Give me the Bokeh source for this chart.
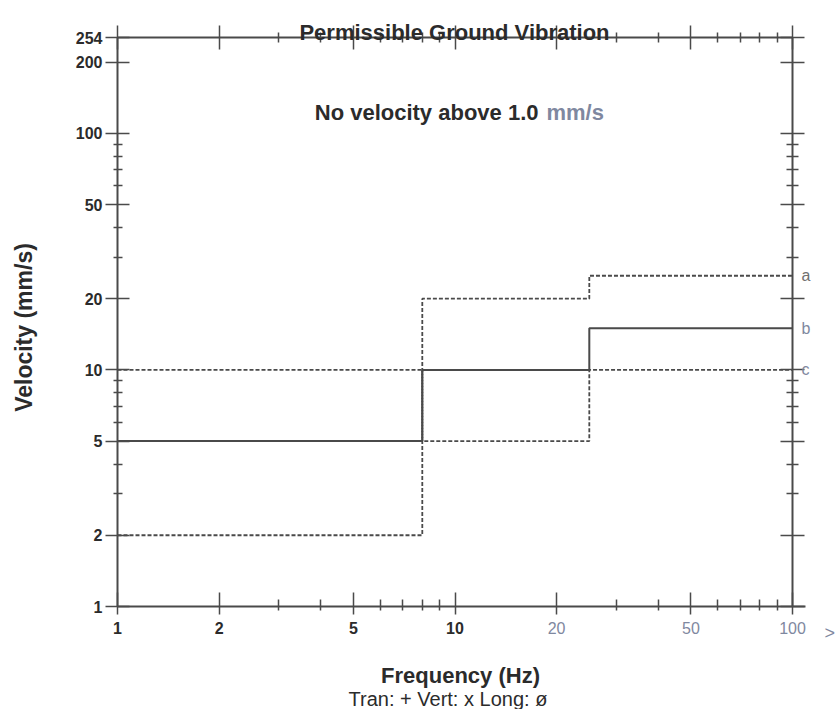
import math
from bokeh.plotting import figure
from bokeh.models import (LogAxis, FixedTicker, Label, CustomJSTickFormatter,
                          NumeralTickFormatter, Range1d)
from bokeh.embed import file_html
from bokeh.resources import INLINE

# ---------------- data ----------------
freq_breaks = [1, 8, 25, 100]          # Hz, step break points
vel_a = [2, 20, 25, 25]                # mm/s, curve a (dashed)
vel_b = [5, 10, 15, 15]                # mm/s, curve b (solid)
vel_c = [10, 5, 10, 10]                # mm/s, curve c (dashed)
curve_names = ["a", "b", "c"]
x_major_dark = [1, 2, 5, 10]
x_major_light = [20, 50, 100]
y_major = [1, 2, 5, 10, 20, 50, 100, 200, 254]
minor_vals = [3, 4, 6, 7, 8, 9, 30, 40, 60, 70, 80, 90]
X_MIN, X_MAX = 1, 100
Y_MIN, Y_MAX = 1, 254

# ---------------- layout (page pixels) ----------------
W, H = 837, 709
FL, FR, FT, FB = 117, 792, 37, 606     # where the data box sits
FONT = "Liberation Sans"
DARK = "#2b2b2b"
LINE = "#4a4a4a"
BLUE = "#7f88a0"

XDEC = (FR - FL) / math.log10(X_MAX / X_MIN)
YDEC = (FB - FT) / math.log10(Y_MAX / Y_MIN)


def dx(px):
    return X_MIN * 10 ** ((px - FL) / XDEC)


def dy(py):
    return Y_MIN * 10 ** ((FB - py) / YDEC)


p = figure(width=W, height=H, x_axis_type="log", y_axis_type="log",
           x_axis_location=None, y_axis_location=None,
           x_range=Range1d(dx(0), dx(W)), y_range=Range1d(dy(H), dy(0)),
           output_backend="svg", toolbar_location=None,
           min_border_left=0, min_border_right=0,
           min_border_top=0, min_border_bottom=0)
p.grid.visible = False
p.outline_line_color = None
p.background_fill_color = "white"
p.border_fill_color = "white"


def make_axis(major, minor, loc, bounds, tin, tout, min_in, min_out,
              labels=True, color=DARK, line=True):
    ax = LogAxis(ticker=FixedTicker(ticks=major, minor_ticks=minor),
                 fixed_location=loc, bounds=bounds)
    ax.axis_line_color = LINE if line else None
    ax.axis_line_width = 2
    ax.major_tick_line_color = LINE
    ax.major_tick_line_width = 1.5
    ax.minor_tick_line_color = LINE
    ax.minor_tick_line_width = 1.5
    ax.major_tick_in = tin
    ax.major_tick_out = tout
    ax.minor_tick_in = min_in
    ax.minor_tick_out = min_out
    ax.major_label_text_font = FONT
    ax.major_label_text_font_style = "bold"
    ax.major_label_text_font_size = "16px"
    ax.major_label_text_color = color
    if labels:
        ax.formatter = NumeralTickFormatter(format="0")
    else:
        ax.formatter = CustomJSTickFormatter(code="return ''")
        ax.major_label_text_font_size = "1px"
        ax.major_label_standoff = 0
    return ax


# bottom (two overlaid axes so that label colours can differ)
xb1 = make_axis(x_major_dark, minor_vals, Y_MIN, (X_MIN, dx(805)), 14, 8, 7, 4)
xb1.major_label_standoff = 7
xb2 = make_axis(x_major_light, [], Y_MIN, (X_MIN, X_MAX), 14, 8, 7, 4,
                color=BLUE, line=False)
xb2.major_label_standoff = 7
xb2.major_label_text_font_style = "normal"
p.add_layout(xb1, "below")
p.add_layout(xb2, "below")

# left
yl = make_axis(y_major, minor_vals, X_MIN, (Y_MIN, Y_MAX), 12, 12, 5, 4)
yl.major_label_standoff = 3
p.add_layout(yl, "left")

# top and right frame axes (ticks only)
xt = make_axis(x_major_dark + x_major_light, minor_vals, Y_MAX, (X_MIN, X_MAX),
               12, 12, 5, 5, labels=False)
p.add_layout(xt, "above")
yr = make_axis(y_major, minor_vals, X_MAX, (Y_MIN, Y_MAX), 12, 12, 6, 6, labels=False)
p.add_layout(yr, "right")

# ---------------- curves ----------------
p.step(freq_breaks, vel_a, mode="after", line_color=LINE, line_width=1.8, line_dash="4 2")
p.step(freq_breaks, vel_c, mode="after", line_color=LINE, line_width=1.8, line_dash="4 2")
p.step(freq_breaks, vel_b, mode="after", line_color=LINE, line_width=2)

end_vals = [vel_a[-1], vel_b[-1], vel_c[-1]]
end_cols = ["#707070", BLUE, BLUE]
for name, v, c in zip(curve_names, end_vals, end_cols):
    p.add_layout(Label(x=freq_breaks[-1], y=v, text=name, x_offset=9,
                       text_baseline="middle", text_align="left",
                       text_font=FONT, text_font_size="16px", text_color=c))


# ---------------- texts ----------------
def add_text(px, py, text, align="center", baseline="alphabetic", size="22px",
             style="bold", color=DARK, angle=0.0):
    p.add_layout(Label(x=dx(px), y=dy(py), text=text, angle=angle,
                       text_align=align, text_baseline=baseline,
                       text_font=FONT, text_font_style=style,
                       text_font_size=size, text_color=color))


add_text(454, 32, "Permissible Ground Vibration")
add_text(538, 112, "No velocity above 1.0", align="right")
add_text(546, 112, "mm/s", align="left", color=BLUE)
add_text(23, 327, "Velocity (mm/s)", baseline="middle", size="23px", angle=math.pi / 2)
add_text(460, 675, "Frequency (Hz)")
add_text(453, 698, "Tran: +  Vert: x  Long: ø", size="20px", style="normal")
add_text(824, 632, ">", align="left", baseline="middle", size="18px",
         style="normal", color=BLUE)

open("out.html", "w").write(file_html(p, INLINE))
